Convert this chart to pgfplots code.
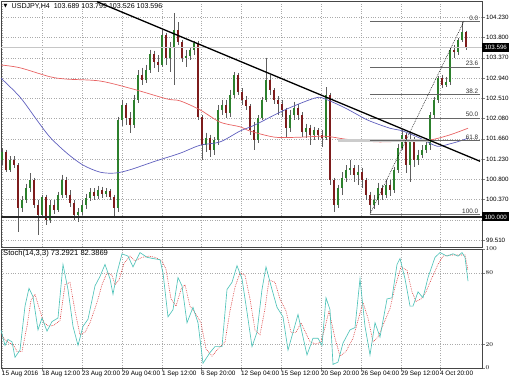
\documentclass[border=0pt]{standalone}
\usepackage{fontspec}
\setmainfont{Liberation Sans}
\newfontfamily\dejavu{DejaVu Sans}
\usepackage{pgfplots}
\usepackage{pgfplotstable}
\pgfplotsset{compat=1.18}
\definecolor{bull}{RGB}{44,128,44}
\definecolor{bear}{RGB}{125,28,28}
\definecolor{wick}{RGB}{95,95,95}
\definecolor{mared}{RGB}{232,100,100}
\definecolor{mablue}{RGB}{95,95,190}
\definecolor{stk}{RGB}{80,195,185}
\definecolor{std}{RGB}{220,60,60}
\definecolor{gridc}{RGB}{170,170,170}

\pgfplotstableread{
x o h l c
2 101.21 101.46 101.10 101.38
6 101.38 101.42 100.95 100.99
10 100.99 101.29 100.95 101.21
14 101.21 101.29 101.04 101.10
18 101.10 101.14 99.68 100.19
22 100.19 100.44 100.10 100.36
26 100.36 100.70 100.30 100.61
30 100.61 100.93 100.53 100.78
34 100.78 100.83 100.19 100.25
38 100.25 100.36 99.62 100.04
42 100.04 100.47 99.98 100.42
46 100.42 100.47 99.83 99.94
50 99.94 100.36 99.87 100.25
54 100.25 100.36 100.06 100.15
58 100.15 100.53 100.10 100.47
62 100.47 100.89 100.40 100.78
66 100.78 100.85 100.40 100.47
70 100.47 100.57 100.21 100.30
74 100.30 100.36 99.94 100.04
78 100.04 100.19 99.89 100.10
82 100.10 100.36 100.04 100.25
86 100.25 100.49 100.17 100.40
90 100.40 100.61 100.34 100.53
94 100.53 100.61 100.36 100.44
98 100.44 100.66 100.38 100.57
102 100.57 100.64 100.40 100.49
106 100.49 100.61 100.42 100.55
110 100.55 100.59 100.36 100.42
114 100.42 100.47 100.00 100.19
118 100.19 102.12 100.10 102.05
122 102.05 102.48 101.93 102.37
126 102.37 102.41 101.95 102.10
130 102.10 102.22 101.78 101.95
134 101.95 102.58 101.88 102.48
138 102.48 103.11 102.41 103.01
142 103.01 103.16 102.80 102.90
146 102.90 103.22 102.84 103.11
150 103.11 103.54 103.05 103.45
154 103.45 103.52 103.16 103.28
158 103.28 103.43 103.07 103.22
162 103.22 103.96 103.18 103.86
166 103.86 103.90 103.22 103.37
170 103.37 103.71 103.07 103.58
174 103.58 104.32 102.80 103.96
178 103.96 104.13 103.64 103.71
182 103.71 103.75 103.28 103.37
186 103.37 103.54 103.18 103.41
190 103.41 103.60 103.33 103.54
194 103.54 103.73 103.43 103.69
198 103.69 103.73 102.05 102.12
202 102.12 102.16 101.21 101.52
206 101.52 101.78 101.38 101.67
210 101.67 101.74 101.27 101.42
214 101.42 101.69 101.31 101.63
218 101.63 102.37 101.52 102.27
222 102.27 102.48 102.16 102.37
226 102.37 102.48 102.10 102.20
230 102.20 102.69 102.12 102.58
234 102.58 103.07 102.52 103.01
238 103.01 103.05 102.58 102.65
242 102.65 102.73 102.37 102.48
246 102.48 102.56 102.27 102.35
250 102.35 102.39 101.74 101.84
254 101.84 102.01 101.42 101.63
258 101.63 102.16 101.57 102.10
262 102.10 102.54 102.05 102.48
266 102.48 103.37 102.44 102.90
270 102.90 103.01 102.58 102.69
274 102.69 102.73 102.39 102.48
278 102.48 102.56 102.16 102.39
282 102.39 102.48 102.12 102.27
286 102.27 102.31 101.69 101.88
290 101.88 102.27 101.80 102.16
294 102.16 102.44 102.05 102.31
298 102.31 102.39 102.05 102.16
302 102.16 102.22 101.69 101.80
306 101.80 101.97 101.67 101.88
310 101.88 101.95 101.52 101.74
314 101.74 101.91 101.63 101.84
318 101.84 101.88 101.63 101.74
322 101.74 101.84 101.48 101.67
326 101.67 102.75 101.63 102.58
330 102.58 102.63 100.68 100.78
334 100.78 100.83 100.10 100.25
338 100.25 100.68 100.19 100.61
342 100.61 100.95 100.47 100.83
346 100.83 101.10 100.74 100.99
350 100.99 101.21 100.89 101.04
354 101.04 101.10 100.74 100.89
358 100.89 101.10 100.68 100.95
362 100.95 101.04 100.61 100.78
366 100.78 100.83 100.36 100.47
370 100.47 100.53 100.08 100.25
374 100.25 100.47 100.17 100.36
378 100.36 100.72 100.25 100.61
382 100.61 100.68 100.36 100.47
386 100.47 100.78 100.40 100.68
390 100.68 100.78 100.44 100.57
394 100.57 101.06 100.51 100.99
398 100.99 101.55 100.93 101.46
402 101.46 101.84 101.42 101.74
406 101.74 101.78 100.93 101.10
410 101.10 101.78 100.74 101.63
414 101.63 101.69 101.06 101.21
418 101.21 101.42 101.10 101.31
422 101.31 101.52 101.25 101.42
426 101.42 101.67 101.35 101.52
430 101.52 102.22 101.42 102.16
434 102.16 102.54 102.10 102.48
438 102.48 102.99 102.41 102.94
442 102.94 103.01 102.73 102.80
446 102.80 102.97 102.75 102.86
450 102.86 103.60 102.80 103.54
454 103.54 103.64 103.37 103.50
458 103.50 103.79 103.43 103.75
462 103.75 104.15 103.71 103.92
466 103.92 103.95 103.53 103.60
}\candles

\begin{document}
\begin{tikzpicture}[font=\fontsize{6.4}{7.5}\selectfont]
\useasboundingbox (0,0) rectangle (510pt,-382pt);
\begin{axis}[
  at={(1pt,-1pt)}, anchor=north west, scale only axis,
  width=481pt, height=246pt,
  xmin=1, xmax=482, ymin=99.364, ymax=104.575,
  axis line style={draw=gray!55!black, line width=0.6pt},
  xtick={2,42,82,122,162,201,241,281,321,361,401,440},
  xticklabels={},
  xtick style={draw=none},
  ytick={104.23,103.801,103.372,102.943,102.514,102.085,101.656,101.227,100.798,100.369,99.94,99.511},
  yticklabels={104.230,103.800,103.370,102.940,102.510,102.080,101.660,101.230,100.800,100.370,,99.510},
  ytick pos=right, yticklabel pos=right,
  tick align=outside, major tick length=3pt,
  yticklabel style={font=\fontsize{6.2}{7}\selectfont, anchor=west, inner sep=1pt},
  grid=major, major grid style={gridc, dash pattern=on 0.8pt off 1.6pt, line width=0.5pt},
  clip mode=individual,
  candle/.style={forget plot, only marks, mark=*, mark size=0pt, mark options={draw=none, fill=none}},
]
% wicks
\addplot[candle,
  error bars/.cd, y dir=minus, y explicit, error mark=none,
  error bar style={wick, line width=0.6pt}]
  table[x=x, y=h, y error expr=\thisrow{h}-\thisrow{l}] {\candles};
% bull bodies
\addplot[candle,
  restrict expr to domain={\thisrow{c}-\thisrow{o}}{0:10},
  error bars/.cd, y dir=minus, y explicit, error mark=none,
  error bar style={bull, line width=2.7pt}]
  table[x=x, y=c, y error expr=\thisrow{c}-\thisrow{o}] {\candles};
% bear bodies
\addplot[candle,
  restrict expr to domain={\thisrow{o}-\thisrow{c}}{0.0001:10},
  error bars/.cd, y dir=minus, y explicit, error mark=none,
  error bar style={bear, line width=2.7pt}]
  table[x=x, y=o, y error expr=\thisrow{o}-\thisrow{c}] {\candles};
% bid line
\addplot[gray!45, line width=0.6pt] coordinates {(1,103.596) (482,103.596)};
% 100.000 line
\addplot[black!85, line width=1.2pt] coordinates {(1,100.0) (482,100.0)};
% moving averages
\addplot[mared, line width=0.7pt, smooth] coordinates {
(1,103.22) (20,103.16) (50,102.97) (67,102.92) (100,102.88) (133,102.71) (167,102.50)
(180,102.46) (200,102.27) (220,102.01) (240,101.91) (250,101.82) (275,101.69)
(300,101.69) (325,101.71) (345,101.65) (365,101.61) (380,101.59) (410,101.61)
(430,101.63) (450,101.74) (468,101.88)};
\addplot[mablue, line width=0.7pt, smooth] coordinates {
(1,102.94) (20,102.54) (37,102.05) (50,101.69) (67,101.35) (83,101.10) (100,100.95)
(115,100.93) (130,101.00) (155,101.18) (180,101.35) (200,101.52) (220,101.59)
(240,101.82) (255,101.95) (285,102.27) (315,102.52) (325,102.50) (345,102.31)
(365,102.08) (375,101.99) (390,101.88) (403,101.82) (420,101.67) (437,101.50)
(450,101.55) (460,101.61) (468,101.67)};
% fibonacci
\addplot[gray!40, line width=2.2pt] coordinates {(338,101.62) (430,101.62)};
\addplot[gray!80!black, line width=0.6pt] coordinates {(370,104.15) (480,104.15)};
\addplot[gray!80!black, line width=0.6pt] coordinates {(370,103.18) (480,103.18)};
\addplot[gray!80!black, line width=0.6pt] coordinates {(370,102.59) (480,102.59)};
\addplot[gray!80!black, line width=0.6pt] coordinates {(370,102.10) (480,102.10)};
\addplot[gray!80!black, line width=0.6pt] coordinates {(370,101.62) (480,101.62)};
\addplot[gray!80!black, line width=0.6pt] coordinates {(370,100.06) (480,100.06)};
\addplot[black, line width=0.5pt, dash pattern=on 0.8pt off 1pt] coordinates {(370,100.06) (464,104.15)};
% trendline
\addplot[black, line width=1.3pt] coordinates {(97,104.56) (480,101.18)};
\foreach \lv/\tx in {104.15/0.0, 103.18/23.6, 102.59/38.2, 102.10/50.0, 101.62/61.8, 100.06/100.0}{
  \edef\temp{\noexpand\node[anchor=south east, inner sep=0.6pt, text=black!80] at (axis cs:479,\lv) {\tx};}
  \temp
}
\coordinate (bid) at (axis cs:482,103.596);
\coordinate (hund) at (axis cs:482,100.0);
\end{axis}
\node[fill=black, text=white, anchor=west, inner sep=0.8pt, minimum height=9pt, minimum width=27pt, font=\fontsize{6.2}{7}\selectfont] at (bid) {103.596};
\node[fill=black, text=white, anchor=west, inner sep=0.8pt, minimum height=9pt, minimum width=27pt, font=\fontsize{6.2}{7}\selectfont] at (hund) {100.000};

\begin{axis}[
  at={(1pt,-249pt)}, anchor=north west, scale only axis,
  width=481pt, height=119pt,
  xmin=1, xmax=482, ymin=0, ymax=100,
  axis line style={draw=gray!55!black, line width=0.6pt},
  xtick={2,42,82,122,162,201,241,281,321,361,401,440},
  xticklabels={15 Aug 2016,18 Aug 12:00,23 Aug 20:00,29 Aug 04:00,1 Sep 12:00,6 Sep 20:00,12 Sep 04:00,15 Sep 12:00,20 Sep 20:00,26 Sep 04:00,29 Sep 12:00,4 Oct 20:00},
  xtick pos=bottom, ytick pos=right, yticklabel pos=right,
  tick align=outside, major tick length=2.5pt,
  ytick={0,20,80,100},
  xticklabel style={font=\fontsize{6.4}{7}\selectfont, anchor=north west, inner sep=0.6pt, xshift=-0.8pt},
  yticklabel style={font=\fontsize{6.2}{7}\selectfont, anchor=west, inner sep=1pt},
  grid=major, major grid style={gridc, dash pattern=on 0.8pt off 1.6pt, line width=0.5pt},
]
\addplot[std, line width=0.6pt, dash pattern=on 0.8pt off 1pt] coordinates {
(1,28) (5,24) (9,21) (13,20) (17,14) (22,14) (27,35) (31,57) (35,62) (40,48) (44,38)
(49,35) (54,36) (60,40) (65,70) (70,72) (75,48) (80,28) (85,30) (90,38) (97,55)
(102,70) (107,80) (112,78) (115,70) (119,74) (124,88) (130,94) (135,90) (142,93)
(149,94) (155,93) (162,90) (166,83) (171,58) (176,52) (181,66) (185,70) (190,52)
(196,45) (201,38) (206,16) (212,10) (218,16) (225,22) (230,48) (235,68) (240,80)
(245,78) (250,58) (255,32) (260,28) (265,50) (269,74) (275,72) (280,58) (286,48)
(291,30) (296,30) (301,38) (310,22) (316,20) (321,22) (325,34) (329,48) (335,25)
(340,10) (346,14) (353,25) (358,40) (363,55) (368,42) (373,22) (378,26) (384,38)
(390,50) (395,68) (401,85) (407,82) (412,64) (416,56) (421,58) (426,64) (431,74)
(438,87) (443,94) (450,95) (456,95) (461,95) (465,95) (468,82)};
\addplot[stk, line width=0.65pt] coordinates {
(1,32) (5,19) (8,24) (12,22) (15,9) (20,15) (25,52) (29,67) (33,60) (38,32) (42,42)
(47,31) (52,39) (58,42) (63,87) (68,66) (73,35) (78,19) (83,35) (88,41) (95,69)
(100,77) (105,87) (110,75) (113,62) (117,80) (122,96) (128,94) (133,85) (140,97)
(147,93) (153,92) (160,91) (163,80) (168,43) (173,49) (178,76) (182,69) (187,38)
(193,51) (198,38) (203,4) (210,13) (215,18) (222,18) (227,66) (232,72) (237,86)
(242,75) (247,47) (252,18) (257,30) (262,66) (266,85) (272,66) (277,51) (283,43)
(288,15) (293,30) (298,45) (307,11) (313,25) (318,25) (322,19) (326,59) (330,49)
(333,3) (338,5) (343,21) (350,32) (355,34) (360,75) (365,35) (370,11) (375,38)
(380,26) (387,58) (392,59) (397,87) (400,92) (405,75) (410,52) (413,52) (418,64)
(423,59) (428,76) (435,93) (440,97) (447,94) (453,96) (458,94) (462,97) (465,93)
(468,73)};
\end{axis}
\node[anchor=center, inner sep=0pt] at (5.5pt,-6.5pt) {\dejavu\fontsize{5}{6}\selectfont ▼};
\node[anchor=west, inner sep=0pt, font=\fontsize{7.1}{8}\selectfont] at (11.5pt,-6.5pt) {USDJPY,H4\ \ 103.689 103.799 103.526 103.596};
\node[anchor=west, inner sep=0pt, font=\fontsize{7.6}{8}\selectfont] at (3pt,-253.5pt) {Stoch(14,3,3) 73.2921 82.3869};
\end{tikzpicture}
\end{document}
